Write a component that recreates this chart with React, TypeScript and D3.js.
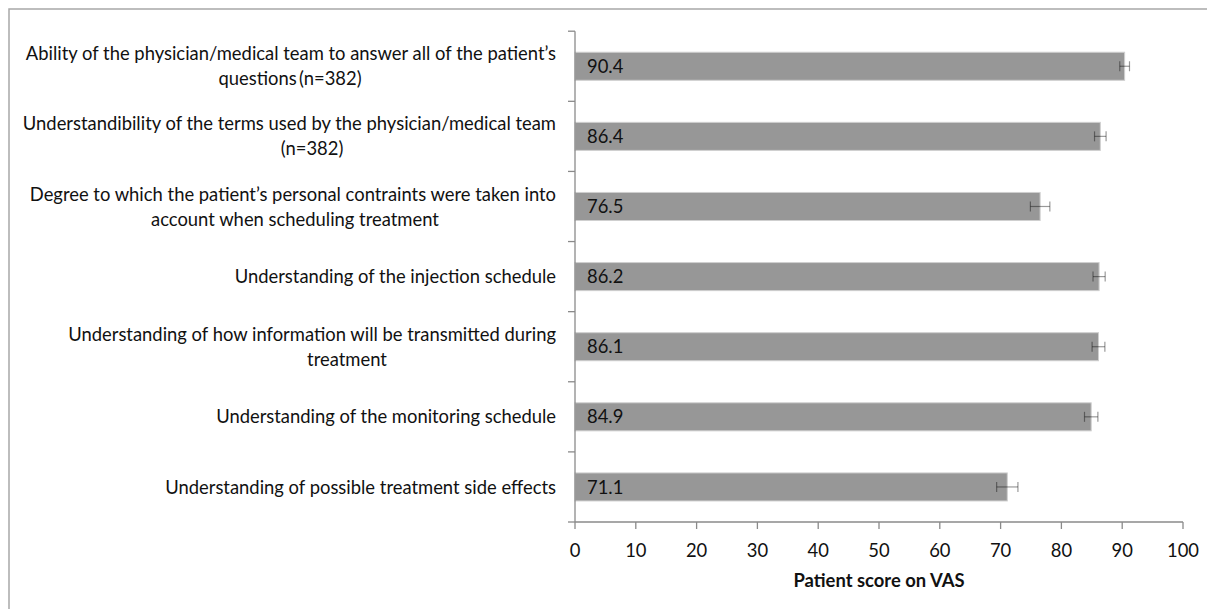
import React from "react";
import * as d3 from "d3";

const categories: string[][] = [
  ["Ability of the physician/medical team to answer all of the patient\u2019s", "questions\u2009(n=382)"],
  ["Understandibility of the terms used by the physician/medical team", "(n=382)"],
  ["Degree to which the patient\u2019s personal contraints were taken into", "account when scheduling treatment"],
  ["Understanding of the injection schedule"],
  ["Understanding of how information will be transmitted during", "treatment"],
  ["Understanding of the monitoring schedule"],
  ["Understanding of possible treatment side effects"],
];
const values: number[] = [90.4, 86.4, 76.5, 86.2, 86.1, 84.9, 71.1];
const errors: number[] = [0.8, 0.95, 1.6, 1.0, 1.05, 1.1, 1.75];
const xTicks: number[] = [0, 10, 20, 30, 40, 50, 60, 70, 80, 90, 100];
const xTitle = "Patient score on VAS";

// layout: center x of wrapped second lines
const secondLineCenter: (number | null)[] = [290, 312, 295, null, 347, null, null];

const W = 1207;
const H = 609;
const left = 575;
const right = 1183;
const top = 31.2;
const bottom = 522;
const FONT = "Lato, 'Open Sans', sans-serif";
const FS = 18.4;

export default function App() {
  const x = d3.scaleLinear().domain([0, 100]).range([left, right]);
  const y = d3
    .scaleBand<number>()
    .domain(d3.range(categories.length))
    .range([top, bottom])
    .paddingInner(0.6)
    .paddingOuter(0.3);
  const band = (bottom - top) / categories.length;
  const axisColor = "#8a8a8a";
  const labelX = 556;
  const lineGap = 25;

  return (
    <svg
      width={W}
      height={H}
      style={{ position: "absolute", left: 0, top: 0, display: "block", background: "#fff" }}
      fontFamily={FONT}
    >
      <rect x={9} y={9} width={W + 10} height={H + 10} fill="none" stroke="#a8a8a8" strokeWidth={1.5} />
      {/* bars */}
      {values.map((v, i) => {
        const by = y(i)!;
        const bh = y.bandwidth();
        const cy = by + bh / 2;
        const x0 = x(v - errors[i]);
        const x1 = x(v + errors[i]);
        return (
          <g key={i}>
            <rect x={x(0)} y={by} width={x(v) - x(0)} height={bh} fill="#979797" stroke="#cfcfcf" strokeWidth={1} />
            <text x={x(0) + 12} y={cy} dy="0.36em" fontSize={FS} fill="#111">
              {v.toFixed(1)}
            </text>
            <g stroke="#000" strokeOpacity={0.4} strokeWidth={1.2}>
              <line x1={x0} x2={x1} y1={cy} y2={cy} />
              <line x1={x0} x2={x0} y1={cy - 5} y2={cy + 5} />
              <line x1={x1} x2={x1} y1={cy - 5} y2={cy + 5} />
            </g>
          </g>
        );
      })}
      {/* category labels */}
      {categories.map((lines, i) => {
        const cy = top + band * (i + 0.5);
        const n = lines.length;
        return (
          <g key={i} fontSize={FS} fill="#111">
            {lines.map((t, j) => {
              const ly = cy + (j - (n - 1) / 2) * lineGap;
              if (j === 0)
                return (
                  <text key={j} x={labelX} y={ly} dy="0.36em" textAnchor="end">
                    {t}
                  </text>
                );
              return (
                <text key={j} x={secondLineCenter[i] ?? labelX} y={ly} dy="0.36em" textAnchor="middle">
                  {t}
                </text>
              );
            })}
          </g>
        );
      })}
      {/* y axis */}
      <line x1={left} x2={left} y1={top} y2={bottom} stroke={axisColor} strokeWidth={1.3} />
      {d3.range(categories.length + 1).map((k) => (
        <line key={k} x1={left - 7} x2={left} y1={top + band * k} y2={top + band * k} stroke={axisColor} strokeWidth={1.3} />
      ))}
      {/* x axis */}
      <line x1={left} x2={right} y1={bottom} y2={bottom} stroke={axisColor} strokeWidth={1.3} />
      {xTicks.map((t) => (
        <g key={t}>
          <line x1={x(t)} x2={x(t)} y1={bottom} y2={bottom + 7} stroke={axisColor} strokeWidth={1.3} />
          <text x={x(t)} y={550} dy="0.36em" textAnchor="middle" fontSize={FS} fill="#111">
            {t}
          </text>
        </g>
      ))}
      <text x={(left + right) / 2} y={580} dy="0.36em" textAnchor="middle" fontSize={FS} fontWeight="bold" fill="#111">
        {xTitle}
      </text>
    </svg>
  );
}
